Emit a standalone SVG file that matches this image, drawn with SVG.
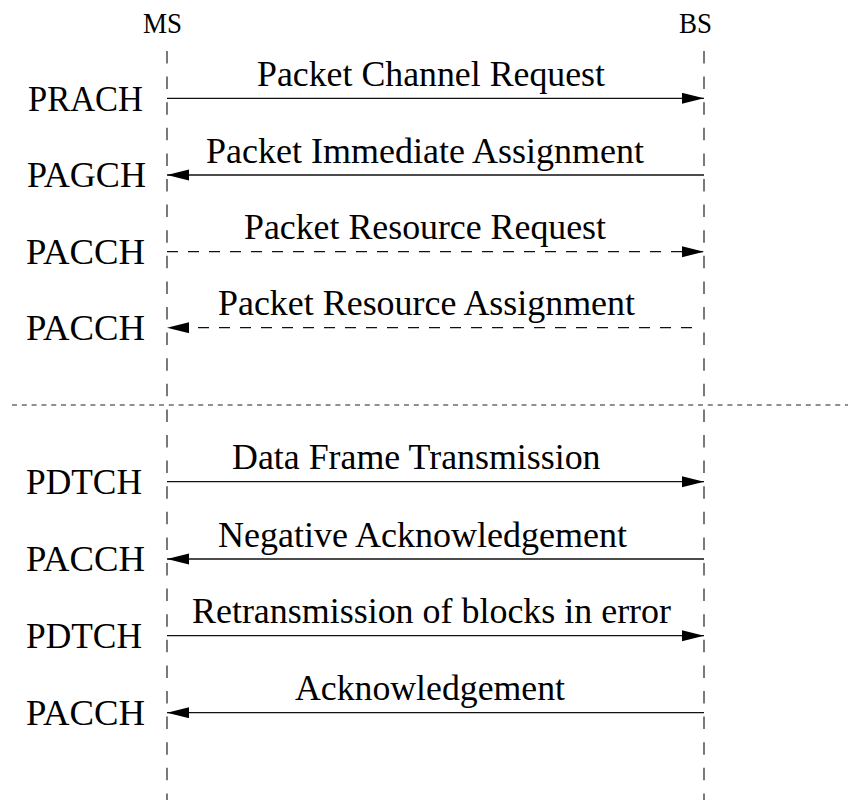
<svg xmlns="http://www.w3.org/2000/svg" width="848" height="800" viewBox="0 0 848 800">
<style>
text{font-family:"Liberation Serif","Times New Roman",serif;font-size:35px;fill:#000}
text.actor{font-size:30px}
.life{stroke:#333;stroke-width:1.3;stroke-dasharray:12.5 13.1;fill:none}
.sep{stroke:#222;stroke-width:1.2;stroke-dasharray:5 4.8;fill:none}
.msg{stroke:#111;stroke-width:1.3;fill:none}
.dash{stroke-dasharray:11 10}
</style>
<defs>
<marker id="ah" markerUnits="userSpaceOnUse" markerWidth="24" markerHeight="12" refX="22" refY="5.5" orient="auto">
<path d="M0,0 L22,5.5 L0,11 Z" fill="#000"/>
</marker>
</defs>
<rect width="848" height="800" fill="#fff"/>
<g id="MS">
<text class="actor" x="143" y="33" textLength="39" lengthAdjust="spacingAndGlyphs">MS</text>
<line class="life" x1="167" y1="51" x2="167" y2="800"/>
</g>
<g id="BS">
<text class="actor" x="679" y="33" textLength="33" lengthAdjust="spacingAndGlyphs">BS</text>
<line class="life" x1="704" y1="51" x2="704" y2="800"/>
</g>
<g id="separator">
<line class="sep" x1="12" y1="405" x2="848" y2="405"/>
</g>
<g id="channels">
<text x="28" y="110.5" textLength="115" lengthAdjust="spacingAndGlyphs">PRACH</text>
<text x="27" y="187" textLength="119" lengthAdjust="spacingAndGlyphs">PAGCH</text>
<text x="26" y="264" textLength="119" lengthAdjust="spacingAndGlyphs">PACCH</text>
<text x="26" y="340" textLength="119" lengthAdjust="spacingAndGlyphs">PACCH</text>
<text x="26" y="494" textLength="116" lengthAdjust="spacingAndGlyphs">PDTCH</text>
<text x="26" y="571" textLength="119" lengthAdjust="spacingAndGlyphs">PACCH</text>
<text x="26" y="648" textLength="116" lengthAdjust="spacingAndGlyphs">PDTCH</text>
<text x="26" y="725" textLength="119" lengthAdjust="spacingAndGlyphs">PACCH</text>
</g>
<g id="connectors">
<line class="msg" x1="167" y1="98.3" x2="704" y2="98.3" marker-end="url(#ah)"/>
<line class="msg" x1="704" y1="175" x2="167" y2="175" marker-end="url(#ah)"/>
<line class="msg dash" x1="167" y1="251.7" x2="704" y2="251.7" marker-end="url(#ah)"/>
<line class="msg dash" x1="692" y1="327.7" x2="167" y2="327.7" marker-end="url(#ah)"/>
<line class="msg" x1="167" y1="481.7" x2="704" y2="481.7" marker-end="url(#ah)"/>
<line class="msg" x1="704" y1="559" x2="167" y2="559" marker-end="url(#ah)"/>
<line class="msg" x1="167" y1="635.7" x2="704" y2="635.7" marker-end="url(#ah)"/>
<line class="msg" x1="704" y1="712.7" x2="167" y2="712.7" marker-end="url(#ah)"/>
</g>
<g id="labels">
<text x="257" y="86" textLength="348" lengthAdjust="spacingAndGlyphs">Packet Channel Request</text>
<text x="206" y="162.5" textLength="438" lengthAdjust="spacingAndGlyphs">Packet Immediate Assignment</text>
<text x="244" y="239" textLength="362" lengthAdjust="spacingAndGlyphs">Packet Resource Request</text>
<text x="218" y="315" textLength="417" lengthAdjust="spacingAndGlyphs">Packet Resource Assignment</text>
<text x="232" y="469" textLength="368.5" lengthAdjust="spacingAndGlyphs">Data Frame Transmission</text>
<text x="218" y="546.5" textLength="409" lengthAdjust="spacingAndGlyphs">Negative Acknowledgement</text>
<text x="192" y="623" textLength="479" lengthAdjust="spacingAndGlyphs">Retransmission of blocks in error</text>
<text x="295" y="700" textLength="270" lengthAdjust="spacingAndGlyphs">Acknowledgement</text>
</g>
</svg>
